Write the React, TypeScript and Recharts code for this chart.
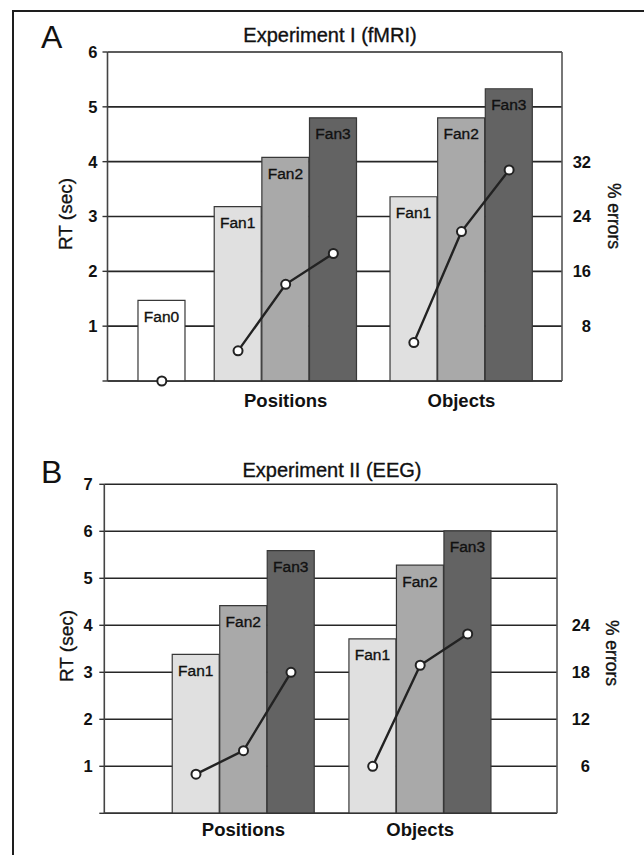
import { ComposedChart, Bar, Line, XAxis, YAxis, CartesianGrid, Cell, LabelList } from 'recharts';

const FONT = '"Liberation Sans", Arial, sans-serif';

// Panel A: Experiment I (fMRI)
const groupsA = ['', 'Positions', 'Objects'];
const centersA = [1.14, 3.74, 7.43]; // group centres, in bar-width units
const fansA = [['Fan0'], ['Fan1', 'Fan2', 'Fan3'], ['Fan1', 'Fan2', 'Fan3']];
const rtA = [[1.47], [3.18, 4.08, 4.8], [3.36, 4.8, 5.33]];
const errA = [[0], [4.4, 14.1, 18.6], [5.6, 21.8, 30.8]];
const rtTicksA = [0, 1, 2, 3, 4, 5, 6];
const errTicksA = [8, 16, 24, 32];

// Panel B: Experiment II (EEG)
const groupsB = ['Positions', 'Objects'];
const centersB = [2.93, 6.65];
const fansB = [['Fan1', 'Fan2', 'Fan3'], ['Fan1', 'Fan2', 'Fan3']];
const rtB = [[3.38, 4.42, 5.59], [3.71, 5.28, 6.01]];
const errB = [[5.0, 8.0, 18.0], [6.0, 18.9, 22.9]];
const rtTicksB = [0, 1, 2, 3, 4, 5, 6, 7];
const errTicksB = [6, 12, 18, 24];

const fanFill: Record<string, string> = {
  Fan0: '#ffffff',
  Fan1: '#e0e0e0',
  Fan2: '#a9a9a9',
  Fan3: '#636363',
};

function buildRows(centers: number[], fans: string[][], rt: number[][], err: number[][]) {
  const rows: any[] = [];
  centers.forEach((c, gi) => {
    const n = fans[gi].length;
    fans[gi].forEach((fan, bi) => {
      rows.push({ x: c + bi - (n - 1) / 2, fan, rt: rt[gi][bi], ['e' + gi]: err[gi][bi] });
    });
  });
  return rows;
}

const ErrTick = (props: any) => {
  const { x, y, payload, dx } = props;
  return (
    <text x={x + dx} y={y} dy="0.36em" textAnchor="end" fontSize={16.5} fontWeight={700} fill="#111" fontFamily={FONT}>
      {payload.value}
    </text>
  );
};

interface PanelProps {
  top: number;
  height: number;
  margin: { top: number; right: number; bottom: number; left: number };
  groups: string[];
  centers: number[];
  fans: string[][];
  rt: number[][];
  err: number[][];
  xMax: number;
  rtTicks: number[];
  errTicks: number[];
  errMax: number;
  errDx: number;
  leftTickMargin: number;
  xTickMargin: number;
}

function Panel(p: PanelProps) {
  const data = buildRows(p.centers, p.fans, p.rt, p.err);
  const rtMax = p.rtTicks[p.rtTicks.length - 1];
  return (
    <div style={{ position: 'absolute', left: 0, top: p.top }}>
      <ComposedChart width={644} height={p.height} data={data} margin={p.margin}>
        <CartesianGrid vertical={false} stroke="#262626" strokeWidth={1.6} />
        <XAxis
          type="number"
          dataKey="x"
          domain={[0, p.xMax]}
          ticks={p.centers}
          tickFormatter={(v: number) => p.groups[p.centers.indexOf(v)] ?? ''}
          height={30}
          tickLine={false}
          tickMargin={p.xTickMargin}
          axisLine={{ stroke: '#333', strokeWidth: 1.6 }}
          tick={{ fontSize: 18.5, fontWeight: 700, fill: '#111', fontFamily: FONT }}
        />
        <YAxis
          width={60}
          domain={[0, rtMax]}
          ticks={p.rtTicks}
          tickFormatter={(v: number) => (v === 0 ? '' : String(v))}
          tickSize={5}
          tickMargin={p.leftTickMargin}
          axisLine={{ stroke: '#444', strokeWidth: 1.6 }}
          tickLine={{ stroke: '#333', strokeWidth: 1.4 }}
          tick={{ fontSize: 16.5, fontWeight: 700, fill: '#111', fontFamily: FONT }}
        />
        <YAxis
          yAxisId="err"
          orientation="right"
          width={40}
          domain={[0, p.errMax]}
          ticks={p.errTicks}
          tickLine={false}
          axisLine={{ stroke: '#555', strokeWidth: 1.6 }}
          tick={<ErrTick dx={p.errDx} />}
        />
        <Bar dataKey="rt" barSize={47} stroke="#383838" strokeWidth={1.2} isAnimationActive={false}>
          {data.map((d, i) => (
            <Cell key={i} fill={fanFill[d.fan]} />
          ))}
          <LabelList
            dataKey="fan"
            position="insideTop"
            offset={10.5}
            fill="#111"
            stroke="#111"
            strokeWidth={0.35}
            fontSize={15.5}
            fontFamily={FONT}
          />
        </Bar>
        {p.groups.map((g, gi) => (
          <Line
            key={g + gi}
            yAxisId="err"
            dataKey={'e' + gi}
            stroke="#222"
            strokeWidth={2.4}
            connectNulls={false}
            dot={{ r: 4.5, fill: '#fff', stroke: '#222', strokeWidth: 2 }}
            activeDot={false}
            isAnimationActive={false}
          />
        ))}
      </ComposedChart>
    </div>
  );
}

const textBase: React.CSSProperties = {
  position: 'absolute',
  fontFamily: FONT,
  color: '#111',
  whiteSpace: 'nowrap',
  lineHeight: 1,
  WebkitTextStroke: '0.35px #111',
};

function Centered({ x, y, size, rotate, weight, children }: any) {
  return (
    <div
      style={{
        ...textBase,
        left: x,
        top: y,
        fontSize: size,
        fontWeight: weight ?? 400,
        transform: `translate(-50%, -50%)${rotate ? ` rotate(${rotate}deg)` : ''}`,
      }}
    >
      {children}
    </div>
  );
}

export default function App() {
  return (
    <div style={{ position: 'absolute', left: 0, top: 0, width: 644, height: 855, overflow: 'hidden', background: '#fff' }}>
      <div
        style={{
          position: 'absolute',
          left: 11.5,
          top: 9.5,
          width: 660,
          height: 900,
          borderTop: '2px solid #1e1e1e',
          borderLeft: '2.5px solid #1e1e1e',
        }}
      />
      <Panel
        top={0}
        height={430}
        margin={{ top: 52, right: 42, bottom: 19, left: 47.5 }}
        groups={groupsA}
        centers={centersA}
        fans={fansA}
        rt={rtA}
        err={errA}
        xMax={9.54}
        rtTicks={rtTicksA}
        errTicks={errTicksA}
        errMax={48}
        errDx={21}
        leftTickMargin={5}
        xTickMargin={7}
      />
      <Panel
        top={430}
        height={425}
        margin={{ top: 54.3, right: 47, bottom: 11.7, left: 44.3 }}
        groups={groupsB}
        centers={centersB}
        fans={fansB}
        rt={rtB}
        err={errB}
        xMax={9.53}
        rtTicks={rtTicksB}
        errTicks={errTicksB}
        errMax={42}
        errDx={25}
        leftTickMargin={6.5}
        xTickMargin={4}
      />
      <div style={{ ...textBase, left: 41, top: 36.5, fontSize: 32, transform: 'translateY(-50%)', WebkitTextStroke: '0' }}>A</div>
      <Centered x={330} y={35} size={20}>Experiment I (fMRI)</Centered>
      <Centered x={65} y={214} size={19} rotate={-90}>RT (sec)</Centered>
      <Centered x={613} y={216} size={17.5} rotate={90}>% errors</Centered>

      <div style={{ ...textBase, left: 41, top: 472, fontSize: 32, transform: 'translateY(-50%)', WebkitTextStroke: '0' }}>B</div>
      <Centered x={332} y={470} size={20}>Experiment II (EEG)</Centered>
      <Centered x={66} y={646} size={19} rotate={-90}>RT (sec)</Centered>
      <Centered x={611} y={653} size={17.5} rotate={90}>% errors</Centered>
    </div>
  );
}
